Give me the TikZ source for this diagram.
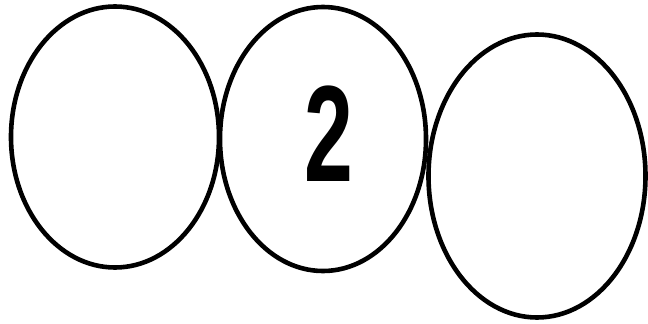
\documentclass[tikz,border=0pt]{standalone}
\usepackage{fontspec}
\usepackage{tikz}
\usetikzlibrary{shapes.geometric}
\newfontfamily\digitfont{Liberation Sans}

\begin{document}
\begin{tikzpicture}[x=1pt,y=-1pt]
  \useasboundingbox (0,0) rectangle (648,324);
  % Three ovals in a row
  \node[draw, ellipse, line width=4.6pt, inner sep=0pt, minimum width=208pt, minimum height=261pt] (oval1) at (115,137) {};
  \node[draw, ellipse, line width=4.6pt, inner sep=0pt, minimum width=206pt, minimum height=264pt] (oval2) at (323,139) {};
  \node[draw, ellipse, line width=4.6pt, inner sep=0pt, minimum width=217pt, minimum height=283pt] (oval3) at (537,176) {};

  % Digit in the middle oval
  \node[inner sep=0pt] (digit) at (329,134) {\scalebox{0.64}[1]{\digitfont\bfseries\fontsize{137}{137}\selectfont 2}};
\end{tikzpicture}
\end{document}
